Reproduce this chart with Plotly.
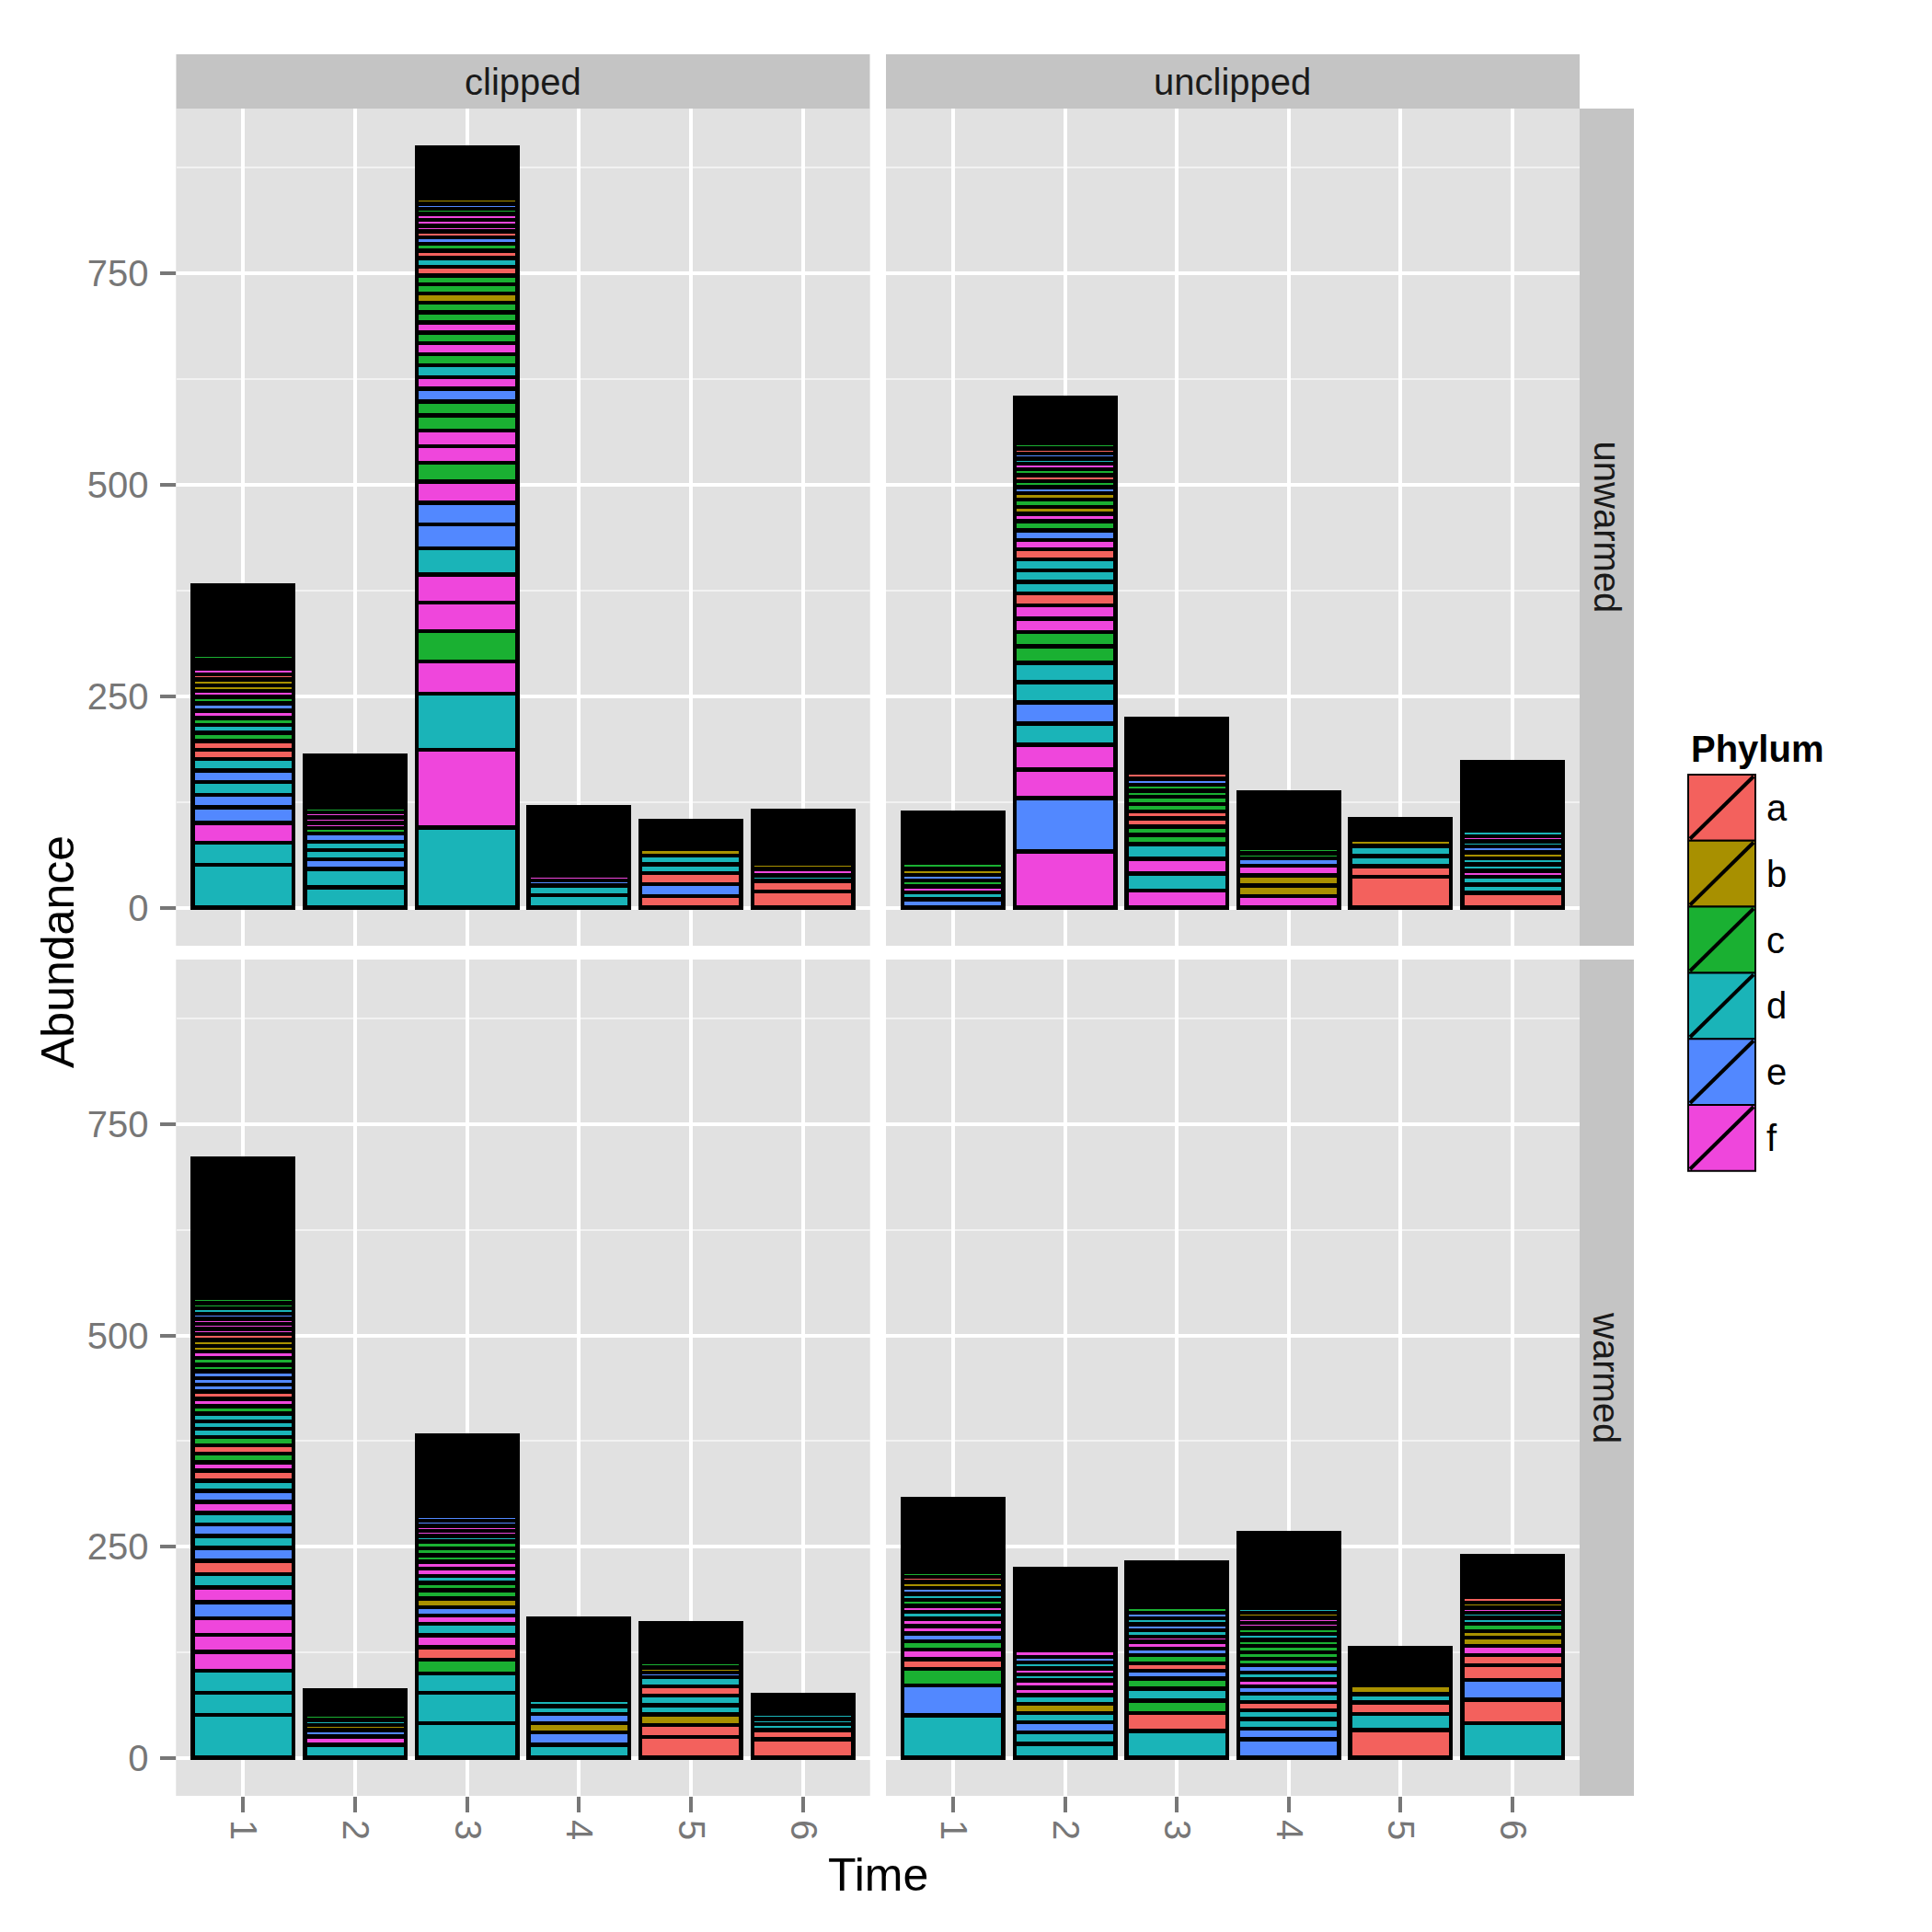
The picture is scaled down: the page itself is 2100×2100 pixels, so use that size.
import plotly.graph_objects as go

# ---------------- data ----------------
times = [1, 2, 3, 4, 5, 6]
phylum_names = ["a", "b", "c", "d", "e", "f"]
phylum_colors = ["#F3615D", "#A89000", "#1AB032", "#1AB4B8", "#5288FF", "#EF46DC"]
col_labels = ["clipped", "unclipped"]
row_labels = ["unwarmed", "warmed"]
y_ticks = [0, 250, 500, 750]

# each bar: phylum of each visible segment (bottom -> top), segment sizes,
# and the remaining pile of very small segments on top ("tail")
clipped_unwarmed_phyla = [
    "ddfeededaacdcfecfbbaffdc",
    "ddeddecfffc",
    "dfdfcffdeefcffccefdcfcfccbccadaceafffceb",
    "ddefce",
    "aeaddb",
    "aadfb",
]
clipped_unwarmed_values = [
    [51, 26, 23, 19, 14.5, 15, 13.5, 14, 11, 10, 10, 9, 8.5, 8.5, 8.5, 8, 7, 6.5, 7, 6, 7, 5.5, 5, 6],
    [24, 22, 11, 11, 10, 10, 6.5, 6, 6, 6, 6.5],
    [95, 92, 66, 38, 36, 34, 33, 31, 28, 26, 25, 22, 19.5, 19, 17.5, 16.5, 15, 14, 14, 13,
     13, 12.5, 12, 12, 11.5, 11, 10.5, 10.5, 10.5, 10, 9, 8, 7.5, 7, 7, 7, 7, 6, 6, 6],
    [15, 11, 6, 6, 5, 5],
    [14, 14, 13, 10.5, 10, 8.5],
    [19, 12.5, 7, 7.5, 6],
]
clipped_unwarmed_tail = [82, 61, 61, 71, 32.5, 62.5]

unclipped_unwarmed_phyla = [
    "edfcebc",
    "feffdeddccffadddafecfbcbecacfdeac",
    "fdfdccaaccccea",
    "fbbfecc",
    "aaddb",
    "addfddbedfd",
]
unclipped_unwarmed_values = [
    [10, 8, 7, 7, 7, 7, 7],
    [66.5, 63, 34, 29, 25.5, 25, 23.5, 23, 19.5, 17, 16, 15.5, 14, 14, 13.5, 13, 12, 11, 11, 11,
     9, 8, 8.5, 8, 7, 7, 7, 7, 6.5, 6, 6, 6, 6.5],
    [20.5, 20, 17.5, 17, 11, 10, 9.5, 8.5, 8.5, 8.5, 7.5, 7, 7, 7.5],
    [14, 12.5, 12, 11, 9, 6, 6],
    [36.5, 12.5, 12, 12, 7],
    [17.5, 10, 9, 7, 8, 7, 7, 7, 6, 6, 6.5],
]
unclipped_unwarmed_tail = [60, 53.5, 63, 65.5, 24.5, 81]

clipped_warmed_phyla = [
    "dddfffefdaededfedafcacdddcfaeeeccfbbafffedcc",
    "dfebdc",
    "dddcafdfebccdffcccdffee",
    "debedd",
    "aabddadebc",
    "aaddd",
]
clipped_warmed_values = [
    [51, 26, 26, 22.5, 20, 19.5, 19, 17.5, 16, 16, 15, 14, 14, 13.5, 13, 13, 12, 12, 10, 10,
     10, 10, 9.5, 9, 9, 9, 8.5, 8.5, 8.5, 7.5, 8, 8, 8, 7.5, 6.5, 7, 7, 6, 6, 6, 6, 6.5, 6, 6],
    [15.5, 10, 7.5, 6, 6, 6.5],
    [41, 36, 23, 16, 15, 14, 13.5, 10, 10, 10, 10, 8.5, 8.5, 8.5, 8, 8, 8, 8, 6.5, 6, 6, 6, 6],
    [15.5, 14.5, 11, 11, 9, 8],
    [24.5, 14.5, 12.5, 11, 11, 11, 11, 5.5, 6, 6.5],
    [22, 11, 7, 6, 6],
]
clipped_warmed_tail = [166, 28.5, 95, 96, 46, 22]

unclipped_warmed_phyla = [
    "decafceffdfcdebac",
    "ddedbdffdfdef",
    "dacdceaceffdedec",
    "eeddadefdeccccdcffbd",
    "adadb",
    "daeaafbbcddfba",
]
unclipped_warmed_values = [
    [50.5, 35, 20, 11.5, 11, 10, 9.5, 8.5, 8.5, 8.5, 7, 7, 7, 7, 7, 6, 6],
    [16.5, 13.5, 12, 11, 11, 10, 9, 8.5, 7, 7.5, 7, 6.5, 8],
    [32, 21, 15, 14, 12, 9, 9, 9.5, 8, 8, 6, 7.5, 7, 7, 7, 6.5],
    [22, 12.5, 11.5, 10.5, 9.5, 10, 8.5, 8.5, 8, 8.5, 8, 7.5, 7.5, 7, 7, 7, 6, 6, 6, 6],
    [33, 19, 13.5, 10, 11],
    [41, 28, 23.5, 17, 12, 11, 10, 7.5, 8.5, 7, 6, 6, 6, 6.5],
]
unclipped_warmed_tail = [86, 96, 53, 89, 44, 49]

# ---------------- style ----------------
W = H = 2100
OFF = 8  # page body margin
FONT = "Liberation Sans, Arial, Helvetica, sans-serif"
PANEL_BG = "#e1e1e1"
STRIP_BG = "#c4c4c4"
GREY_TXT = "#777777"
color_of = dict(zip(phylum_names, phylum_colors))

def fx(p):
    return (p - OFF) / W

def fy(p):
    return 1 - (p - OFF) / H

col_px = [(191.5, 945.5), (963, 1717)]
row_px = [(118, 1028), (1043, 1952)]

panels = [
    (0, 0, clipped_unwarmed_phyla, clipped_unwarmed_values, clipped_unwarmed_tail),
    (1, 0, unclipped_unwarmed_phyla, unclipped_unwarmed_values, unclipped_unwarmed_tail),
    (0, 1, clipped_warmed_phyla, clipped_warmed_values, clipped_warmed_tail),
    (1, 1, unclipped_warmed_phyla, unclipped_warmed_values, unclipped_warmed_tail),
]

fig = go.Figure()
layout_axes = {}
LINE_W = 4.5

for idx, (c, r, ph, vals, tail) in enumerate(panels):
    n = idx + 1
    xa = "x" if n == 1 else f"x{n}"
    ya = "y" if n == 1 else f"y{n}"
    maxlen = max(len(v) for v in vals)
    for k in range(maxlen):
        xs, ys, cs = [], [], []
        for i, t in enumerate(times):
            if k < len(vals[i]):
                xs.append(t)
                ys.append(vals[i][k])
                cs.append(color_of[ph[i][k]])
        fig.add_trace(go.Bar(
            x=xs, y=ys, width=0.9, xaxis=xa, yaxis=ya,
            marker=dict(color=cs, line=dict(color="black", width=LINE_W)),
            showlegend=False, hoverinfo="skip",
        ))
    fig.add_trace(go.Bar(
        x=times, y=tail, width=0.9, xaxis=xa, yaxis=ya,
        marker=dict(color="black", line=dict(color="black", width=LINE_W)),
        showlegend=False, hoverinfo="skip",
    ))

    bottom = (r == 1)
    left = (c == 0)
    x0, x1 = col_px[c]
    y0, y1 = row_px[r]
    xkey = "xaxis" if n == 1 else f"xaxis{n}"
    ykey = "yaxis" if n == 1 else f"yaxis{n}"
    layout_axes[xkey] = dict(
        domain=[fx(x0), fx(x1)], anchor=ya, range=[0.4, 6.6],
        tickmode="array", tickvals=times, ticktext=[str(t) for t in times],
        showgrid=True, gridcolor="white", gridwidth=4, zeroline=False, showline=False,
        ticks="outside" if bottom else "", ticklen=17, tickwidth=4, tickcolor=GREY_TXT,
        showticklabels=bottom, tickangle=90,
        tickfont=dict(family=FONT, size=40, color=GREY_TXT),
        fixedrange=True,
    )
    layout_axes[ykey] = dict(
        domain=[fy(y1), fy(y0)], anchor=xa, range=[-45, 945],
        tickmode="array", tickvals=y_ticks, ticktext=[str(v) for v in y_ticks],
        showgrid=True, gridcolor="white", gridwidth=4, zeroline=False, showline=False,
        minor=dict(tickmode="array", tickvals=[125, 375, 625, 875], showgrid=True,
                   gridcolor="#f2f2f2", gridwidth=2, ticks=""),
        ticks="outside" if left else "", ticklen=17, tickwidth=4, tickcolor=GREY_TXT,
        showticklabels=left, ticklabelstandoff=4,
        tickfont=dict(family=FONT, size=40, color=GREY_TXT),
        fixedrange=True,
    )

shapes = []
annotations = []

# panel backgrounds
for c in range(2):
    for r in range(2):
        x0, x1 = col_px[c]
        y0, y1 = row_px[r]
        shapes.append(dict(type="rect", xref="paper", yref="paper", layer="below",
                           x0=fx(x0), x1=fx(x1), y0=fy(y1), y1=fy(y0),
                           fillcolor=PANEL_BG, line=dict(width=0)))

# top strips
for c in range(2):
    x0, x1 = col_px[c]
    shapes.append(dict(type="rect", xref="paper", yref="paper",
                       x0=fx(x0), x1=fx(x1), y0=fy(118), y1=fy(59),
                       fillcolor=STRIP_BG, line=dict(width=0)))
    annotations.append(dict(text=col_labels[c], xref="paper", yref="paper",
                            x=fx((x0 + x1) / 2), y=fy(88.5), showarrow=False,
                            xanchor="center", yanchor="middle",
                            font=dict(family=FONT, size=40, color="#1a1a1a")))
# right strips
for r in range(2):
    y0, y1 = row_px[r]
    shapes.append(dict(type="rect", xref="paper", yref="paper",
                       x0=fx(1717), x1=fx(1776), y0=fy(y1), y1=fy(y0),
                       fillcolor=STRIP_BG, line=dict(width=0)))
    annotations.append(dict(text=row_labels[r], xref="paper", yref="paper",
                            x=fx(1746.5), y=fy((y0 + y1) / 2), showarrow=False,
                            textangle=90, xanchor="center", yanchor="middle",
                            font=dict(family=FONT, size=40, color="#1a1a1a")))

# axis titles
annotations.append(dict(text="Abundance", xref="paper", yref="paper", x=fx(63), y=fy(1035),
                        textangle=-90, showarrow=False, xanchor="center", yanchor="middle",
                        font=dict(family=FONT, size=50, color="black")))
annotations.append(dict(text="Time", xref="paper", yref="paper", x=fx(954), y=fy(2038),
                        showarrow=False, xanchor="center", yanchor="middle",
                        font=dict(family=FONT, size=50, color="black")))

# legend (drawn by hand, with ggplot-style slashed keys)
annotations.append(dict(text="<b>Phylum</b>", xref="paper", yref="paper", x=fx(1836), y=fy(814),
                        showarrow=False, xanchor="left", yanchor="middle",
                        font=dict(family=FONT, size=40, color="black")))
key_x0, key_x1 = 1835, 1908
key_top, key_h = 842, 71.8
for i, (name, col) in enumerate(zip(phylum_names, phylum_colors)):
    ky0 = key_top + i * key_h
    ky1 = ky0 + key_h
    shapes.append(dict(type="rect", xref="paper", yref="paper",
                       x0=fx(key_x0), x1=fx(key_x1), y0=fy(ky1), y1=fy(ky0),
                       fillcolor=col, line=dict(color="black", width=2)))
    shapes.append(dict(type="line", xref="paper", yref="paper",
                       x0=fx(key_x0 + 2), y0=fy(ky1 - 2), x1=fx(key_x1 - 2), y1=fy(ky0 + 2),
                       line=dict(color="black", width=4)))
    annotations.append(dict(text=name, xref="paper", yref="paper", x=fx(1918), y=fy(ky0 + key_h / 2),
                            showarrow=False, xanchor="left", yanchor="middle",
                            font=dict(family=FONT, size=40, color="black")))

fig.update_layout(
    width=W, height=H, margin=dict(l=0, r=0, t=0, b=0),
    paper_bgcolor="white", plot_bgcolor=PANEL_BG,
    barmode="stack", showlegend=False,
    shapes=shapes, annotations=annotations,
    **layout_axes,
)

fig.write_html("out.html")
